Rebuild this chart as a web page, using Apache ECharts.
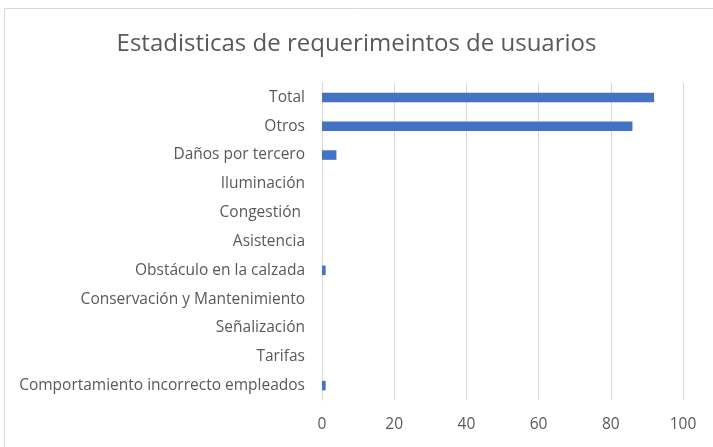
<!DOCTYPE html>
<html>
<head>
<meta charset="utf-8">
<script src="https://cdn.jsdelivr.net/npm/echarts@6/dist/echarts.min.js"></script>
<style>
  html, body { margin: 0; padding: 0; background: #fff; }
  #chart { width: 713px; height: 447px; }
</style>
</head>
<body>
<div id="chart"></div>
<script>
  // categorias de abajo hacia arriba (el eje Y va de abajo a arriba)
  var categorias = [
    'Comportamiento incorrecto empleados',
    'Tarifas',
    'Señalización',
    'Conservación y Mantenimiento',
    'Obstáculo en la calzada',
    'Asistencia',
    'Congestión ',
    'Iluminación',
    'Daños por tercero',
    'Otros',
    'Total'
  ]
  var valores = [1, 0, 0, 0, 1, 0, 0, 0, 4, 86, 92]
  var ticksX = [0, 20, 40, 60, 80, 100]

  var myChart = echarts.init(document.getElementById('chart'))
  var option = {
    backgroundColor: '#ffffff',
    animation: false,
    title: {
      text: 'Estadisticas de requerimeintos de usuarios',
      left: 'center',
      top: 27,
      textStyle: {
        color: '#595959',
        fontSize: 24,
        fontWeight: 'normal',
        fontFamily: 'Open Sans'
      }
    },
    graphic: [{
      type: 'rect',
      shape: { x: 4.5, y: 8.5, width: 740, height: 460 },
      style: { fill: 'none', stroke: '#d9d9d9', lineWidth: 1 },
      silent: true
    }],
    grid: {
      left: 322,
      right: 30,
      top: 83,
      bottom: 47
    },
    xAxis: {
      type: 'value',
      min: ticksX[0],
      max: ticksX[ticksX.length - 1],
      interval: 20,
      axisLine: { show: false },
      axisTick: { show: false },
      axisLabel: {
        color: '#595959',
        fontSize: 15.5,
        fontFamily: 'Open Sans',
        margin: 17
      },
      splitLine: { lineStyle: { color: '#d9d9d9', width: 1 } }
    },
    yAxis: {
      type: 'category',
      data: categorias,
      axisLine: { show: true, lineStyle: { color: '#d9d9d9' } },
      axisTick: { show: false },
      axisLabel: {
        color: '#595959',
        fontSize: 15.5,
        fontFamily: 'Open Sans',
        margin: 17
      }
    },
    series: [{
      type: 'bar',
      data: valores,
      barWidth: '33%',
      itemStyle: { color: '#4472c4' }
    }]
  }
  myChart.setOption(option)
</script>
</body>
</html>
